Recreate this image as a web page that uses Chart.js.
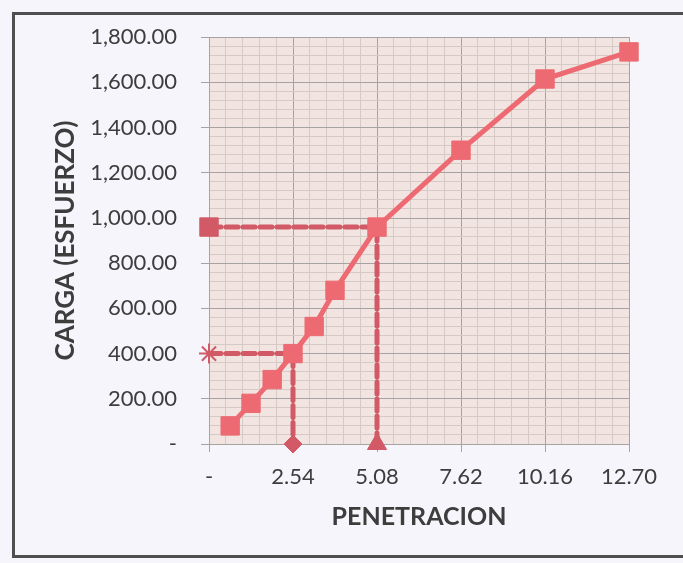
<!DOCTYPE html>
<html>
<head>
<meta charset="utf-8">
<script src="https://cdn.jsdelivr.net/npm/chart.js@4.4.1/dist/chart.umd.min.js"></script>
<style>
  html, body { margin: 0; padding: 0; background: #F5F5FB; overflow: hidden; }
  canvas { display: block; }
</style>
</head>
<body>
<canvas id="c" width="683" height="563"></canvas>
<script>
// ---- data ----
const penetracion = [0.64, 1.27, 1.91, 2.54, 3.18, 3.81, 5.08, 7.62, 10.16, 12.70];
const carga       = [80, 180, 285, 400, 520, 680, 960, 1300, 1615, 1735];

const ref254X = [0, 2.54, 2.54];
const ref254Y = [400, 400, 0];
const ref508X = [0, 5.08, 5.08];
const ref508Y = [960, 960, 0];

const xTickLabels = ['-', '2.54', '5.08', '7.62', '10.16', '12.70'];
const yTickLabels = ['-', '200.00', '400.00', '600.00', '800.00', '1,000.00', '1,200.00', '1,400.00', '1,600.00', '1,800.00'];

const xMajor = 2.54, xMinor = 0.508, xMax = 12.70;
const yMajor = 200, yMinor = 40, yMax = 1800;

// ---- build ----
const toPts = (xs, ys) => xs.map((x, i) => ({ x: x, y: ys[i] }));
const isMajor = (v, step) => Math.abs(v / step - Math.round(v / step)) < 1e-6;

const lineColor = '#EE6A72';
const refColor = '#D25A66';
const majorGrid = '#A9A2A2';
const minorGrid = '#D6CAC7';
const textColor = '#3d3d3d';

const backdrop = {
  id: 'backdrop',
  beforeDraw(chart) {
    const a = chart.chartArea, ctx = chart.ctx;
    ctx.save();
    ctx.fillStyle = '#F5F5FB';
    ctx.fillRect(0, 0, chart.width, chart.height);
    ctx.strokeStyle = '#4f4f4f';
    ctx.lineWidth = 3;
    ctx.strokeRect(13.5, 13.5, 1000, 543);
    ctx.fillStyle = '#F2E5E1';
    ctx.fillRect(a.left, a.top, a.right - a.left, a.bottom - a.top);
    ctx.restore();
  }
};

new Chart(document.getElementById('c'), {
  type: 'scatter',
  data: {
    datasets: [
      {
        data: toPts(penetracion, carga),
        showLine: true,
        borderColor: lineColor,
        backgroundColor: lineColor,
        borderWidth: 5,
        pointStyle: 'rect',
        pointRadius: 13,
        pointBorderWidth: 1,
        pointBorderColor: lineColor,
        order: 0
      },
      {
        data: toPts(ref254X, ref254Y),
        showLine: true,
        borderColor: refColor,
        backgroundColor: refColor,
        borderWidth: 5,
        borderDash: [12, 5],
        borderCapStyle: 'round',
        pointStyle: ['star', 'circle', 'rectRot'],
        pointRadius: [10, 0, 9],
        pointBorderWidth: [2, 0, 1],
        pointBorderColor: refColor,
        order: 1
      },
      {
        data: toPts(ref508X, ref508Y),
        showLine: true,
        borderColor: refColor,
        backgroundColor: refColor,
        borderWidth: 5,
        borderDash: [12, 5],
        borderCapStyle: 'round',
        pointStyle: ['rect', 'circle', 'triangle'],
        pointRadius: [13, 0, 11],
        pointBorderWidth: [1, 0, 1],
        pointBorderColor: refColor,
        order: 1
      }
    ]
  },
  options: {
    responsive: false,
    animation: false,
    clip: false,
    layout: { padding: { left: 50, top: 30, right: 54, bottom: 31 } },
    plugins: { legend: { display: false }, tooltip: { enabled: false } },
    scales: {
      x: {
        type: 'linear',
        min: 0, max: xMax,
        afterFit(s) { s.height = 88; },
        ticks: {
          stepSize: xMinor,
          autoSkip: false,
          maxRotation: 0,
          padding: 12,
          color: textColor,
          font: { family: 'Lato', size: 22 },
          callback: (v) => isMajor(v, xMajor) ? xTickLabels[Math.round(v / xMajor)] : ''
        },
        grid: {
          color: (c) => (c.tick && isMajor(c.tick.value, xMajor)) ? majorGrid : minorGrid,
          tickColor: (c) => (c.tick && isMajor(c.tick.value, xMajor)) ? majorGrid : 'rgba(0,0,0,0)',
          tickLength: 8,
          lineWidth: 1
        },
        border: { color: majorGrid, width: 1 },
        title: {
          display: true,
          text: 'PENETRACION',
          color: textColor,
          font: { family: 'Lato', size: 25, weight: 'bold' },
          padding: { top: 0, bottom: 0 }
        }
      },
      y: {
        type: 'linear',
        min: 0, max: yMax,
        afterFit(s) { s.width = 159; },
        ticks: {
          stepSize: yMinor,
          autoSkip: false,
          padding: 24,
          color: textColor,
          font: { family: 'Lato', size: 22 },
          callback: (v) => isMajor(v, yMajor) ? yTickLabels[Math.round(v / yMajor)] : ''
        },
        grid: {
          color: (c) => (c.tick && isMajor(c.tick.value, yMajor)) ? majorGrid : minorGrid,
          tickColor: (c) => (c.tick && isMajor(c.tick.value, yMajor)) ? majorGrid : 'rgba(0,0,0,0)',
          tickLength: 8,
          lineWidth: 1
        },
        border: { color: majorGrid, width: 1 },
        title: {
          display: true,
          text: 'CARGA (ESFUERZO)',
          color: textColor,
          font: { family: 'Lato', size: 26, weight: 'bold' },
          padding: { top: 0, bottom: 0 }
        }
      }
    }
  },
  plugins: [backdrop]
});
</script>
</body>
</html>
